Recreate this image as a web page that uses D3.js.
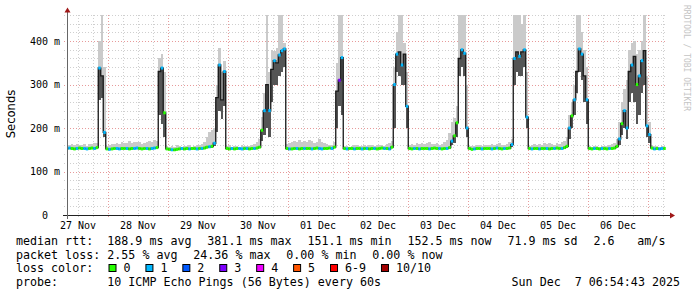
<!DOCTYPE html>
<head>
<meta charset="utf-8">
<title>SmokePing: 10 days</title>
<script src="https://cdn.jsdelivr.net/npm/d3@7"></script>
<style>
  body { margin: 0; background: #fff; }
  svg { display: block; }
  text { white-space: pre; }
</style>
</head>
<body>
<svg width="697" height="297"></svg>

<script type="text/javascript">

// one sample per hour, starting at the left edge of the graph
var startTime = Date.UTC(2025, 10, 27, 7, 36);

// median rtt (ms), one row per 24 hours
var medRtt = [
  153,154,153,152,153,154,153,153,152,153,154,153,155,338,320,190,152,151,152,153,153,152,153,153,
  153,152,153,153,154,153,152,153,153,152,153,154,155,330,338,235,152,151,150,150,151,152,153,152,
  153,152,153,153,152,153,153,154,156,157,158,165,270,345,265,330,153,152,153,152,153,153,152,153,
  153,152,153,153,154,156,195,240,300,240,335,355,350,368,378,382,153,152,152,153,153,152,153,153,
  153,153,152,153,154,153,152,153,153,154,153,156,285,310,362,153,152,153,153,152,153,153,152,153,
  153,152,153,153,152,153,154,153,153,152,156,300,370,375,345,370,250,153,152,153,153,152,153,153,
  153,152,153,154,153,153,152,153,153,155,170,182,212,360,380,372,200,153,151,152,153,153,152,153,
  153,153,152,153,154,153,152,153,153,154,162,360,375,365,375,380,225,153,152,153,153,152,153,153,
  153,152,153,153,154,153,153,155,158,200,228,265,330,382,370,320,265,153,152,153,153,152,153,153,
  152,153,153,154,158,175,210,240,200,330,345,365,300,320,355,378,205,185,154,152,153,152,153,153
];

// slowest ping of each hour (top of the smoke)
var pingMax = [
  158,161,163,160,164,162,161,163,159,164,163,166,166,400,460,340,158,161,164,163,166,164,168,165,
  166,170,165,168,167,169,164,166,168,170,167,173,170,360,370,330,158,156,158,157,160,158,156,159,
  158,160,157,159,161,160,163,168,180,190,195,200,300,385,330,355,158,160,156,158,159,157,160,158,
  159,158,161,163,168,175,225,280,460,330,380,378,385,460,460,395,163,166,168,170,167,172,169,171,
  168,173,170,166,169,174,168,166,163,162,161,168,350,460,460,158,159,157,158,160,161,159,158,160,
  159,161,160,158,162,160,161,159,163,165,170,340,420,460,460,395,330,160,163,162,165,164,166,163,
  165,167,164,163,166,162,164,168,173,188,215,222,250,460,460,460,300,158,159,158,160,161,159,160,
  162,161,164,160,163,166,161,162,164,168,175,460,460,460,440,460,330,158,160,163,161,164,162,165,
  163,166,164,162,165,163,168,170,180,230,260,300,460,460,420,380,340,158,157,159,158,156,158,159,
  158,160,163,166,175,215,260,290,310,380,395,400,370,380,400,460,320,215,160,158,159,157,158,159
];

// fastest ping of each hour (bottom of the smoke)
var pingMin = [
  151,152,151,150,151,152,151,151,150,151,152,151,152,265,270,180,150,149,150,151,151,150,151,151,
  151,150,151,151,152,151,150,151,151,150,151,152,152,230,210,180,150,149,148,148,149,150,151,150,
  151,150,151,151,150,151,151,152,153,154,155,158,190,240,220,250,151,150,151,150,151,151,150,151,
  151,150,151,151,152,153,170,185,200,180,260,300,300,320,330,340,151,150,150,151,151,150,151,151,
  151,151,150,151,152,151,150,151,151,152,151,153,200,250,230,151,150,151,151,150,151,151,150,151,
  151,150,151,151,150,151,152,151,151,150,153,200,330,320,300,300,200,151,150,151,151,150,151,151,
  151,150,151,152,151,151,150,151,151,152,160,165,180,320,340,320,180,151,149,150,151,151,150,151,
  151,151,150,151,152,151,150,151,151,152,156,300,330,320,320,340,200,151,150,151,151,150,151,151,
  151,150,151,151,152,151,151,152,154,175,200,230,280,330,310,260,210,151,150,151,151,150,151,151,
  150,151,151,152,154,160,185,200,175,260,280,260,210,230,280,300,180,165,152,150,151,150,151,151
];

// lost pings per hour (-1 = mixed hour, no loss colour drawn)
var lostPings = [
  0,1,0,0,1,0,0,1,1,0,0,1,0,1,-1,1,0,1,0,0,1,1,0,0,
  1,0,0,1,1,0,0,0,1,0,1,1,0,-1,1,0,0,0,1,0,0,0,1,0,
  0,1,0,0,1,0,1,0,0,1,0,1,-1,1,-1,1,0,0,1,0,0,1,1,0,
  1,0,0,1,0,0,0,1,-1,1,-1,1,-1,1,1,1,0,1,0,0,1,0,0,1,
  0,0,1,0,0,1,1,0,0,0,1,0,-1,3,1,0,1,0,0,1,0,0,1,0,
  1,0,0,1,0,0,0,1,0,1,0,1,1,-1,1,-1,1,0,0,1,0,1,0,0,
  0,1,0,0,0,1,0,0,1,0,1,0,0,-1,1,1,1,0,0,1,0,0,1,0,
  0,0,1,0,1,0,0,1,0,0,1,1,-1,1,-1,1,1,0,1,0,0,1,0,0,
  1,0,0,1,0,0,1,0,0,1,0,1,-1,1,1,-1,1,0,0,1,0,0,1,0,
  0,1,0,0,0,1,0,1,1,-1,1,-1,0,1,1,-1,1,1,0,1,0,1,1,0
];

var lossLabels = ["0", "1", "2", "3", "4", "5", "6-9", "10/10"];
var lossColors = ["#26ff00", "#00b8ff", "#0059ff", "#7e00ff", "#ee00ff", "#ff5500", "#ff0000", "#a10000"];

var yTicks = [0, 100, 200, 300, 400];
var yTickLabels = ["0", "100 m", "200 m", "300 m", "400 m"];

var rttStats = ["188.9 ms avg", "381.1 ms max", "151.1 ms min", "152.5 ms now", "71.9 ms sd", "2.6 ", "am/s"];
var lossStats = ["2.55 % avg", "24.36 % max", "0.00 % min", "0.00 % now"];
var probeText = "10 ICMP Echo Pings (56 Bytes) every 60s";
var stampText = "Sun Dec  7 06:54:43 2025";

var svg = d3.select("svg");
var L = 67, R = 667, T = 15, B = 215;
var hour = 3600 * 1000;
var mono = "DejaVu Sans Mono";

var x = d3.scaleUtc()
    .domain([new Date(startTime), new Date(startTime + 240 * hour)])
    .range([L, R]);
var y = d3.scaleLinear().domain([0, 460]).range([B, T]);

var times = medRtt.map(function(d, i) { return new Date(startTime + i * hour); });
function px(v) { return Math.round(v) + 0.5; }

svg.append("rect").attr("width", 697).attr("height", 297).attr("fill", "#fff");

// grid: 6 hour / 20 ms dotted grey, days / 100 ms dotted red
var grid = svg.append("g").attr("stroke-dasharray", "1,2").attr("stroke-width", 1);
x.ticks(d3.utcHour.every(6)).forEach(function(t) {
  var major = t.getUTCHours() == 0;
  grid.append("line")
    .attr("x1", px(x(t))).attr("x2", px(x(t)))
    .attr("y1", T).attr("y2", B + 3)
    .attr("stroke", major ? "#e79a9a" : "#cfcfcf");
});
d3.range(20, 461, 20).forEach(function(v) {
  var major = v % 100 == 0;
  grid.append("line")
    .attr("x1", L - 3).attr("x2", R)
    .attr("y1", px(y(v))).attr("y2", px(y(v)))
    .attr("stroke", major ? "#e79a9a" : "#cfcfcf");
});

svg.append("clipPath").attr("id", "plot")
  .append("rect").attr("x", L).attr("y", T).attr("width", R - L).attr("height", B - T);
var plot = svg.append("g").attr("clip-path", "url(#plot)");

// smoke
plot.append("path")
  .datum(medRtt)
  .attr("fill", "#cacaca")
  .attr("shape-rendering", "crispEdges")
  .attr("d", d3.area()
    .curve(d3.curveStep)
    .x(function(d, i) { return x(times[i]); })
    .y0(function(d, i) { return y(pingMin[i]); })
    .y1(function(d, i) { return y(pingMax[i]); }));

plot.append("path")
  .datum(medRtt)
  .attr("fill", "#555")
  .attr("shape-rendering", "crispEdges")
  .attr("d", d3.area()
    .curve(d3.curveStep)
    .x(function(d, i) { return x(times[i]); })
    .y0(function(d, i) { return y(pingMin[i]); })
    .y1(function(d) { return y(d); }));

// median
plot.append("path")
  .datum(medRtt)
  .attr("fill", "none")
  .attr("stroke", "#181818")
  .attr("stroke-width", 1.3)
  .attr("d", d3.line()
    .curve(d3.curveStep)
    .x(function(d, i) { return x(times[i]); })
    .y(function(d) { return y(d); }));

function lossBucket(n) {
  if (n >= 10) return 7;
  if (n >= 6) return 6;
  return n;
}

plot.selectAll("rect.loss")
  .data(medRtt.map(function(d, i) { return { t: times[i], v: d, lost: lostPings[i] }; })
    .filter(function(d) { return d.lost >= 0; }))
  .enter().append("rect")
    .attr("class", "loss")
    .attr("x", function(d) { return x(d.t) - 1.25; })
    .attr("width", 2.5)
    .attr("y", function(d) { return y(d.v) - 1.5; })
    .attr("height", 3)
    .attr("fill", function(d) { return lossColors[lossBucket(d.lost)]; });

// axes
svg.append("line").attr("x1", L - 4).attr("x2", R + 4).attr("y1", B + 0.5).attr("y2", B + 0.5)
  .attr("stroke", "#222");
svg.append("line").attr("x1", L + 0.5).attr("x2", L + 0.5).attr("y1", B + 4).attr("y2", T - 3)
  .attr("stroke", "#666");
svg.append("path").attr("d", "M670,212.5L675,215.5L670,218.5Z").attr("fill", "#a01818");
svg.append("path").attr("d", "M64.5,12.5L67.5,7.5L70.5,12.5Z").attr("fill", "#a01818");

yTicks.forEach(function(v, i) {
  svg.append("text")
    .attr("x", v == 0 ? 48 : 60)
    .attr("y", y(v))
    .attr("dy", "0.36em")
    .attr("text-anchor", "end")
    .attr("font-family", mono).attr("font-size", 10).attr("fill", "#000")
    .text(yTickLabels[i]);
});

// day names sit at noon
x.ticks(d3.utcDay.every(1))
  .map(function(t) { return d3.utcHour.offset(t, -12); })
  .filter(function(t) { return t > x.domain()[0]; })
  .forEach(function(t) {
    svg.append("text")
      .attr("x", x(t))
      .attr("y", 229)
      .attr("text-anchor", "middle")
      .attr("font-family", mono).attr("font-size", 10).attr("fill", "#000")
      .text(d3.utcFormat("%d %b")(t));
  });

svg.append("text")
  .attr("transform", "translate(14.5,114) rotate(-90)")
  .attr("text-anchor", "middle")
  .attr("font-family", "DejaVu Sans").attr("font-size", 11.6).attr("fill", "#000")
  .text("Seconds");

svg.append("text")
  .attr("transform", "translate(684,5) rotate(90)")
  .attr("font-family", mono).attr("font-size", 8).attr("fill", "#c4c4c4")
  .text("RRDTOOL / TOBI OETIKER");

// legend
var fs = 11.66, cw = 7.02, gap = 15.8, col = 107.3;
function label(txt, lx, ly, anchor) {
  svg.append("text").attr("x", lx).attr("y", ly)
    .attr("text-anchor", anchor || "start")
    .attr("font-family", mono).attr("font-size", fs).attr("fill", "#000")
    .text(txt);
}
function row(title, items, ly) {
  label(title, 16, ly);
  var pos = col;
  items.forEach(function(s) {
    label(s, pos, ly);
    pos += s.length * cw + gap;
  });
}
row("median rtt:", rttStats, 245);
row("packet loss:", lossStats, 258.5);

label("loss color:", 16, 272);
var pos = 108.5;
lossLabels.forEach(function(s, i) {
  svg.append("rect").attr("x", pos + 0.5).attr("y", 264.5).attr("width", 7).attr("height", 7)
    .attr("fill", lossColors[i]).attr("stroke", "#000");
  label(s, pos + 15, 272);
  pos += 15 + s.length * cw + 14.9;
});

label("probe:", 16, 285.5);
label(probeText, col, 285.5);
label(stampText, 680, 285.5, "end");

</script>
</body>
</html>
